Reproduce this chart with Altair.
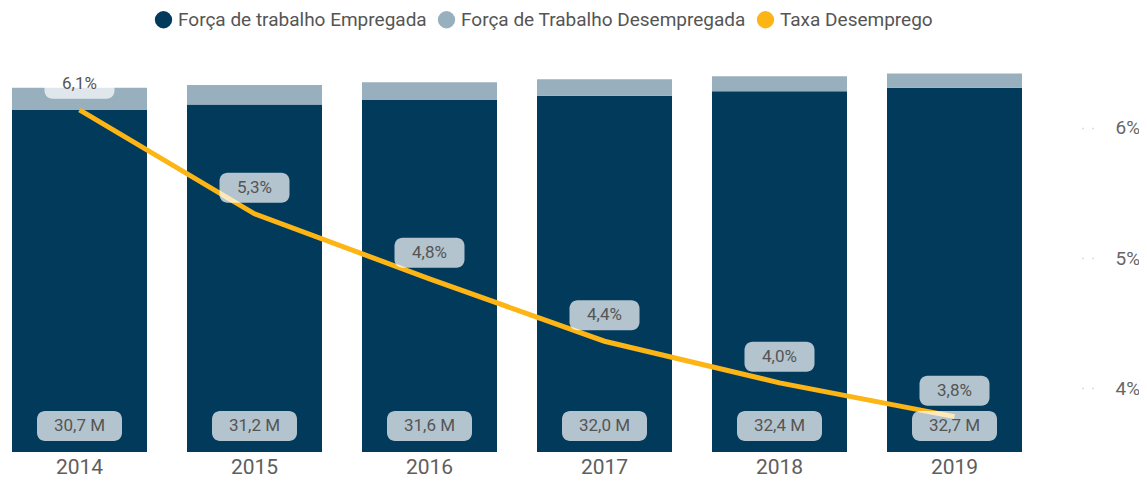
import altair as alt
import pandas as pd

years = ["2014", "2015", "2016", "2017", "2018", "2019"]
empregada = [30.7, 31.2, 31.6, 32.0, 32.4, 32.7]
desempregada = [2.0, 1.75, 1.6, 1.47, 1.35, 1.29]
taxa = [6.14, 5.34, 4.84, 4.36, 4.04, 3.78]
series = ["Força de trabalho Empregada", "Força de Trabalho Desempregada", "Taxa Desemprego"]
colors = ["#023a5c", "#98afbe", "#fdb515"]

rows = []
for y, e, d in zip(years, empregada, desempregada):
    rows.append({"ano": y, "serie": series[0], "valor": e, "ord": 0})
    rows.append({"ano": y, "serie": series[1], "valor": d, "ord": 1})
bars_df = pd.DataFrame(rows)
df = pd.DataFrame({"ano": years, "emp": empregada, "taxa": taxa})

FONT = "Roboto"
TXT = "#555555"
lscale = alt.Scale(domain=[0, 35.2], nice=False, zero=False)
rscale = alt.Scale(domain=[3.508, 6.523], nice=False, zero=False)
xaxis = alt.Axis(title=None, domain=False, ticks=False, labelAngle=0,
                 labelFontSize=21, labelColor="#605e5c", labelFont=FONT,
                 labelPadding=4)
xenc = alt.X("ano:N", scale=alt.Scale(paddingInner=0.2286, paddingOuter=0), axis=xaxis)

bars = alt.Chart(bars_df).mark_bar().encode(
    x=xenc,
    y=alt.Y("valor:Q", stack="zero", scale=lscale, axis=None),
    color=alt.Color("serie:N", scale=alt.Scale(domain=series, range=colors),
                    legend=alt.Legend(title=None, orient="none", direction="horizontal",
                                      legendX=142, legendY=-50, symbolType="circle",
                                      symbolSize=300, symbolStrokeWidth=0, symbolOpacity=1,
                                      labelFontSize=19, labelColor=TXT, labelFont=FONT,
                                      labelLimit=0, columnPadding=10, labelOffset=5)),
    order=alt.Order("ord:Q"),
)

line = alt.Chart(df).mark_line(color="#fdb515", strokeWidth=5).encode(
    x=xenc,
    y=alt.Y("taxa:Q", scale=rscale,
            axis=alt.Axis(orient="right", title=None, values=[4, 5, 6], labelExpr="datum.value + '%'",
                          domain=False, grid=False, offset=60, tickSize=12, tickDash=[1, 9],
                          tickColor="#bbbbbb", tickWidth=1.5, labelPadding=21,
                          labelFontSize=19, labelColor="#666666", labelFont=FONT)),
)

mbox = alt.Chart(df).mark_bar(width=85, cornerRadius=8, color="white", opacity=0.7,
                              yOffset=-41, y2Offset=-11).encode(
    x=xenc,
    y=alt.YDatum(0, type="quantitative", scale=lscale, axis=None),
    y2=alt.Y2Datum(0),
)
pbox = alt.Chart(df).mark_bar(width=70, cornerRadius=8, color="white", opacity=0.7,
                              yOffset=-41, y2Offset=-11).encode(
    x=xenc,
    y=alt.Y("taxa:Q", scale=rscale, axis=None),
    y2=alt.Y2("taxa"),
)
mtext = alt.Chart(df).transform_calculate(
    lab="replace(format(datum.emp, '.1f'), '.', ',') + ' M'"
).mark_text(fontSize=17, color=TXT, font=FONT, baseline="middle", yOffset=-26).encode(
    x=xenc,
    y=alt.YDatum(0, type="quantitative", scale=lscale, axis=None),
    text="lab:N",
)
ptext = alt.Chart(df).transform_calculate(
    lab="replace(format(datum.taxa, '.1f'), '.', ',') + '%'"
).mark_text(fontSize=17, color=TXT, font=FONT, baseline="middle", yOffset=-26).encode(
    x=xenc,
    y=alt.Y("taxa:Q", scale=rscale, axis=None),
    text="lab:N",
)

chart = alt.layer(bars, line, mbox, pbox, mtext, ptext).resolve_scale(
    y="independent"
).properties(
    width=1010, height=392,
    autosize=alt.AutoSizeParams(type="none"),
    padding={"left": 4, "top": 52, "right": 117, "bottom": 27},
).configure_view(stroke=None)

chart.save("out.html", embed_options={"renderer": "svg", "actions": False})
